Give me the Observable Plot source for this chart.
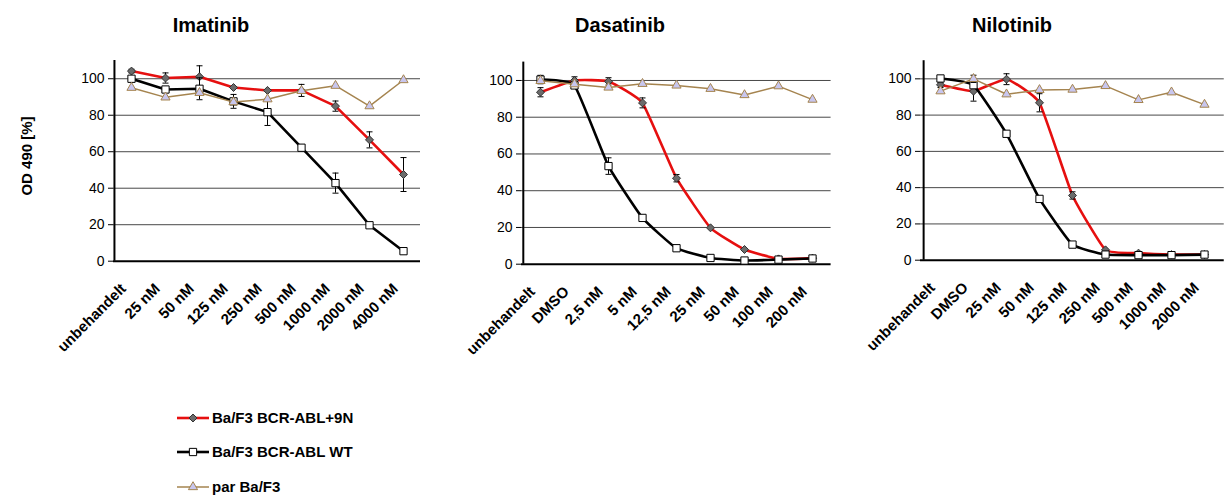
<!DOCTYPE html>
<html><head><meta charset="utf-8">
<script src="https://cdn.jsdelivr.net/npm/d3@7"></script>
<script src="https://cdn.jsdelivr.net/npm/@observablehq/plot@0.6"></script>
<style>
body{margin:0;background:#fff;font-family:"Liberation Sans",Arial,sans-serif;color:#000;}
#root{position:relative;width:1224px;height:495px;overflow:hidden;background:#fff;}
.panel{position:absolute;top:0;}
.title{position:absolute;top:15px;font-weight:bold;font-size:20px;line-height:20px;transform:translateX(-50%);white-space:nowrap;}
.ylabel{position:absolute;left:26px;top:156px;font-weight:bold;font-size:15px;line-height:15px;white-space:nowrap;transform:translate(-50%,-50%) rotate(-90deg);}
.leg{position:absolute;left:177px;font-weight:bold;font-size:15px;line-height:16px;white-space:nowrap;display:flex;align-items:center;}
.leg svg{margin-right:3px;}
</style>
</head><body>
<div id="root"></div>
<script>
// ---------- data ----------
const titles = ["Imatinib", "Dasatinib", "Nilotinib"];
const yLabel = "OD 490 [%]";
const seriesNames = ["Ba/F3 BCR-ABL+9N", "Ba/F3 BCR-ABL WT", "par Ba/F3"];
const yTicks = [0, 20, 40, 60, 80, 100];

const imaCats = ["unbehandelt","25 nM","50 nM","125 nM","250 nM","500 nM","1000 nM","2000 nM","4000 nM"];
const ima9N    = [104.2, 100.4, 101.1, 95.2, 93.6, 93.6, 85.0, 66.5, 47.5];
const ima9NErr = [1, 2.8, 6, 0, 0, 3.3, 2.8, 4.4, 9.3];
const imaWT    = [100, 94.1, 94.5, 87.6, 81.7, 62.2, 42.8, 19.7, 5.5];
const imaWTErr = [0, 1, 6, 3.8, 7.3, 0, 5.5, 0, 0];
const imaPar   = [95.1, 89.8, 92.3, 87.2, 88.8, 93.4, 96.2, 85.0, 99.3];
const imaParErr= [0, 0, 0, 0, 0, 0, 0, 0, 0];

const dasCats = ["unbehandelt","DMSO","2,5 nM","5 nM","12,5 nM","25 nM","50 nM","100 nM","200 nM"];
const das9N    = [93.6, 100, 99.5, 87.8, 46.8, 19.8, 8.0, 2.9, 3.3];
const das9NErr = [2.5, 2, 2, 2.7, 2, 0, 0, 0, 0];
const dasWT    = [100.5, 97.3, 53.4, 25.2, 8.7, 3.4, 2.0, 2.5, 3.1];
const dasWTErr = [2.3, 1.5, 4.5, 0, 0, 0, 0, 0, 0];
const dasPar   = [99.8, 98.0, 96.2, 98.2, 97.3, 95.5, 92.1, 96.9, 89.6];
const dasParErr= [0, 0, 0, 0, 0, 0, 0, 0, 0];

const nilCats = ["unbehandelt","DMSO","25 nM","50 nM","125 nM","250 nM","500 nM","1000 nM","2000 nM"];
const nil9N    = [96.7, 93.2, 99.8, 86.8, 35.7, 5.7, 3.9, 3.1, 3.1];
const nil9NErr = [1.5, 5.5, 3, 5, 2, 0, 0, 0, 0];
const nilWT    = [100.2, 96.5, 69.7, 33.8, 8.6, 3.1, 2.8, 2.8, 3.1];
const nilWTErr = [0, 0, 0, 0, 0, 0, 0, 0, 0];
const nilPar   = [93.2, 100, 91.5, 93.9, 94.1, 96.1, 88.4, 92.6, 85.8];
const nilParErr= [0, 2, 0, 0, 0, 0, 0, 0, 0];

// ---------- styles ----------
const styles = [
  {line: "#e60f0f", lw: 2.6, symbol: "diamond2", r: 3.6, fill: "#6b6b6b", stroke: "#333"},
  {line: "#000000", lw: 2.6, symbol: "square",   r: 4.1, fill: "#ffffff", stroke: "#000"},
  {line: "#a5844f", lw: 1.5, symbol: "triangle", r: 3.4, fill: "#c8c6ee", stroke: "#a5844f"}
];
const capSymbol = {draw(ctx, size){ const w = Math.sqrt(size); ctx.moveTo(-w/2, 0); ctx.lineTo(w/2, 0); }};

const panels = [
  {cats: imaCats, vals: [ima9N, imaWT, imaPar], errs: [ima9NErr, imaWTErr, imaParErr], left: 30, width: 392, ml: 83, mr: 2, mt: 60, mb: 119.3, smooth: false, tx: 211},
  {cats: dasCats, vals: [das9N, dasWT, dasPar], errs: [das9NErr, dasWTErr, dasParErr], left: 440, width: 393, ml: 81, mr: 2.4, mt: 61.6, mb: 116.3, smooth: true, tx: 620},
  {cats: nilCats, vals: [nil9N, nilWT, nilPar], errs: [nil9NErr, nilWTErr, nilParErr], left: 840, width: 384, ml: 80, mr: 0.25, mt: 60.2, mb: 120.3, smooth: true, tx: 1012}
];
const H = 400;
const root = document.getElementById("root");

panels.forEach((p, pi) => {
  const halfStep = (p.width - p.ml - p.mr) / p.cats.length / 2;
  const marks = [
    Plot.gridY(yTicks.filter(t => t > 0), {stroke: "#000", strokeOpacity: 0.72, strokeWidth: 1}),
    Plot.axisY(yTicks, {tickSize: 5, tickPadding: 4, fontSize: 14, label: null, stroke: "#000"}),
    Plot.axisX({tickRotate: -45, tickSize: 0, tickPadding: 25, dx: -8, fontSize: 15, fontWeight: "bold", label: null}),
    Plot.ruleY([0], {stroke: "#000", strokeWidth: 2}),
    Plot.ruleX([p.cats[0]], {y1: 0, y2: 110, dx: -halfStep, stroke: "#000", strokeWidth: 2})
  ];
  p.vals.forEach((vals, si) => {
    const st = styles[si];
    const rows = p.cats.map((c, i) => ({cat: c, v: vals[i], e: p.errs[si][i]}));
    const errRows = rows.filter(d => d.e > 0);
    const smooth = p.smooth && si < 2;
    marks.push(
      Plot.line(rows, {x: "cat", y: "v", stroke: st.line, strokeWidth: st.lw, curve: smooth ? "cardinal" : "linear", tension: 0.6}),
      Plot.ruleX(errRows, {x: "cat", y1: d => d.v - d.e, y2: d => d.v + d.e, stroke: "#000", strokeWidth: 1}),
      Plot.dot(errRows, {x: "cat", y: d => d.v + d.e, symbol: capSymbol, r: 3.4, stroke: "#000", fill: "none", strokeWidth: 1}),
      Plot.dot(errRows, {x: "cat", y: d => d.v - d.e, symbol: capSymbol, r: 3.4, stroke: "#000", fill: "none", strokeWidth: 1}),
      Plot.dot(rows, {x: "cat", y: "v", symbol: st.symbol, r: st.r, fill: st.fill, stroke: st.stroke, strokeWidth: 1})
    );
  });
  const svg = Plot.plot({
    width: p.width, height: H,
    marginLeft: p.ml, marginRight: p.mr, marginTop: p.mt, marginBottom: p.mb + (H - 380),
    x: {type: "point", domain: p.cats, padding: 0.5, align: 0.5},
    y: {domain: [0, 110]},
    style: {fontFamily: "'Liberation Sans', Arial, sans-serif", background: "transparent", overflow: "visible", color: "#000"},
    marks
  });
  svg.classList.add("panel");
  svg.style.left = p.left + "px";
  root.appendChild(svg);

  const t = document.createElement("div");
  t.className = "title";
  t.style.left = p.tx + "px";
  t.textContent = titles[pi];
  root.appendChild(t);
});

const yl = document.createElement("div");
yl.className = "ylabel";
yl.textContent = yLabel;
root.appendChild(yl);

const legY = [418, 452, 487];
seriesNames.forEach((name, i) => {
  const st = styles[i];
  const d = document.createElement("div");
  d.className = "leg";
  d.style.top = (legY[i] - 8) + "px";
  const sym = d3.symbol(d3["symbol" + ({diamond2: "Diamond2", square: "Square", triangle: "Triangle"})[st.symbol]], Math.PI * st.r * st.r)();
  d.innerHTML = `<svg width="32" height="16"><line x1="0" x2="32" y1="8" y2="8" stroke="${st.line}" stroke-width="${st.lw}"/><path transform="translate(16,8)" d="${sym}" fill="${st.fill}" stroke="${st.stroke}"/></svg><span>${name}</span>`;
  root.appendChild(d);
});
</script>
</body></html>
